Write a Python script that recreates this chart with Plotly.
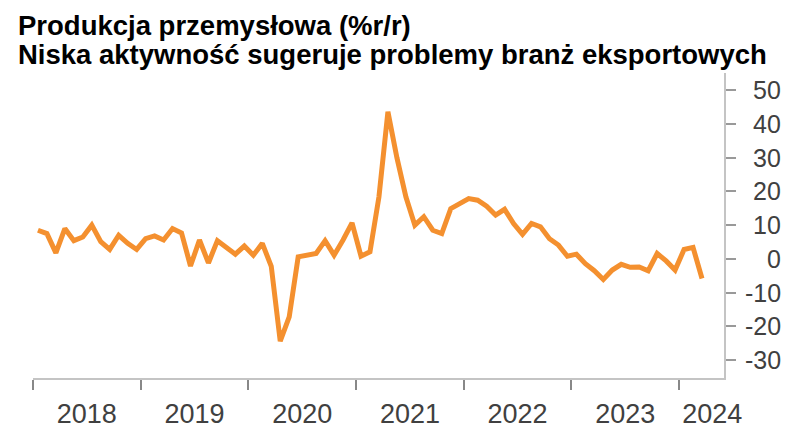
import plotly.graph_objects as go

# Monthly industrial production, % y/y, Jan 2018 - Mar 2024
values_2018 = [8.5, 7.5, 1.8, 9.0, 5.4, 6.5, 10.0, 5.1, 2.8, 7.0, 4.6, 2.8]
values_2019 = [6.0, 6.8, 5.6, 9.0, 7.7, -2.1, 5.6, -1.2, 5.4, 3.6, 1.4, 3.8]
values_2020 = [1.1, 4.6, -2.2, -24.4, -17.2, 0.6, 1.1, 1.6, 5.4, 1.1, 5.6, 10.7]
values_2021 = [0.8, 2.1, 18.4, 43.6, 30.0, 18.4, 10.0, 12.5, 8.5, 7.5, 14.9, 16.6]
values_2022 = [17.9, 17.4, 15.6, 13.0, 14.7, 10.5, 7.3, 10.5, 9.5, 6.0, 4.1, 0.8]
values_2023 = [1.4, -1.4, -3.5, -6.1, -3.3, -1.6, -2.5, -2.4, -3.5, 1.6, -0.6, -3.3]
values_2024 = [2.8, 3.4, -5.8]

year_labels = ["2018", "2019", "2020", "2021", "2022", "2023", "2024"]
y_ticks = [-30, -20, -10, 0, 10, 20, 30, 40, 50]

title_line1 = "Produkcja przemysłowa (%r/r)"
title_line2 = "Niska aktywność sugeruje problemy branż eksportowych"

values = (values_2018 + values_2019 + values_2020 + values_2021
          + values_2022 + values_2023 + values_2024)
x_months = [i + 0.55 for i in range(len(values))]

year_bounds = [12 * k for k in range(len(year_labels))]
label_pos = [12 * k + 6 for k in range(len(year_labels) - 1)] + [75.7]

FONT = "Liberation Sans, Arial, sans-serif"
AX = "#c4c4c4"
TXT = "#404040"

fig = go.Figure()
fig.add_trace(go.Scatter(
    x=x_months, y=values, mode="lines",
    line=dict(color="#F4902F", width=5),
    hoverinfo="skip", showlegend=False,
))

# page body has an 8px default margin; margins compensate for it
fig.update_layout(
    width=800, height=438,
    margin=dict(l=25, r=84, t=65, b=68),
    paper_bgcolor="white", plot_bgcolor="white",
    font=dict(family=FONT, color=TXT),
    xaxis=dict(
        range=[0, 77], showgrid=False, zeroline=False,
        showline=True, linecolor=AX, linewidth=1.5,
        tickmode="array", tickvals=label_pos, ticktext=year_labels,
        ticks="", tickfont=dict(size=27, color=TXT, family=FONT),
        ticklabelstandoff=11,
        minor=dict(tickmode="array", tickvals=year_bounds, ticks="outside",
                   ticklen=10, tickwidth=1.5, tickcolor="#888888", showgrid=False),
    ),
    yaxis=dict(
        range=[-35.3, 55.1], side="right", showgrid=False, zeroline=False,
        showline=True, linecolor=AX, linewidth=1.5,
        tickmode="array", tickvals=y_ticks, ticks="outside",
        ticklen=10, tickwidth=1.5, tickcolor="#999999",
        showticklabels=False,
    ),
)

annotations = []
for v in y_ticks:
    annotations.append(dict(
        xref="paper", yref="y", x=1.0853, y=v, text=str(v),
        xanchor="right", yanchor="middle", showarrow=False,
        font=dict(size=25, color=TXT, family=FONT),
    ))
annotations.append(dict(
    xref="paper", yref="paper", x=-0.025, y=1.155, text="<b>%s</b>" % title_line1,
    xanchor="left", yanchor="middle", showarrow=False,
    font=dict(size=27.5, color="#000000", family=FONT),
))
annotations.append(dict(
    xref="paper", yref="paper", x=-0.025, y=1.061, text="<b>%s</b>" % title_line2,
    xanchor="left", yanchor="middle", showarrow=False,
    font=dict(size=27.5, color="#000000", family=FONT),
))
fig.update_layout(annotations=annotations)

fig.write_html("out.html")
